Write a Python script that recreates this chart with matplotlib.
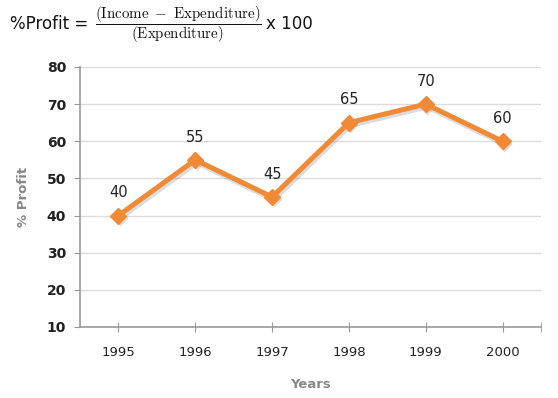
import matplotlib
matplotlib.use("Agg")
import matplotlib.pyplot as plt
from matplotlib.transforms import offset_copy

# data
years = ["1995", "1996", "1997", "1998", "1999", "2000"]
profit = [40, 55, 45, 65, 70, 60]
y_ticks = [10, 20, 30, 40, 50, 60, 70, 80]

plt.rcParams["mathtext.fontset"] = "cm"

W, H = 558, 398
fig = plt.figure(figsize=(W / 100, H / 100), dpi=100)
ax = fig.add_axes([0.1434, 0.1784, 0.8261, 0.6533])

x = list(range(len(years)))
# soft shadow under the line
shadow = offset_copy(ax.transData, fig=fig, x=1.5, y=-2.5, units="dots")
ax.plot(x, profit, color="#777", alpha=0.25, lw=4, marker="D", ms=8.5,
        mec="none", transform=shadow, zorder=2)
ax.plot(x, profit, color="#F28A35", lw=3.6, marker="D", ms=8.5, mec="#F28A35",
        solid_joinstyle="miter", zorder=3)
for xi, v in zip(x, profit):
    ax.annotate(str(v), (xi, v), xytext=(0, 11), textcoords="offset points",
                ha="center", va="bottom", fontsize=10.5, color="#222")

ax.set_xlim(-0.5, len(years) - 0.5)
ax.set_ylim(10, 80)
ax.set_yticks(y_ticks)
ax.set_xticks(x)
ax.set_xticks([len(years) - 0.5], minor=True)
ax.set_xticklabels(years, fontsize=9.5, color="#222")
ax.set_yticklabels([str(t) for t in y_ticks], fontsize=10, color="#222", fontweight="bold")
ax.tick_params(axis="x", which="both", direction="inout", length=7, color="#999", pad=10)
ax.tick_params(axis="y", direction="out", length=4, color="#999", pad=6)

ax.grid(axis="y", color="#dcdcdc", lw=1)
ax.set_axisbelow(True)
for s in ("top", "right"):
    ax.spines[s].set_visible(False)
for s in ("left", "bottom"):
    ax.spines[s].set_color("#999")
    ax.spines[s].set_linewidth(1.2)

ax.set_xlabel("Years", fontsize=9.5, color="#888", fontweight="bold", labelpad=14)
ax.set_ylabel("% Profit", fontsize=9.5, color="#888", fontweight="bold", labelpad=12)

# formula header
fig.text(10 / W, 1 - 24 / H, "%Profit =", fontsize=12, va="center", ha="left", color="#111")
fig.text(95 / W, 1 - 25 / H,
         r"$\dfrac{\mathrm{(Income\ -\ Expenditure)}}{\mathrm{(Expenditure)}}$",
         fontsize=10.8, va="center", ha="left", color="#111")
fig.text(266 / W, 1 - 24 / H, "x 100", fontsize=12, va="center", ha="left", color="#111")

fig.savefig("out.png", dpi=100)
